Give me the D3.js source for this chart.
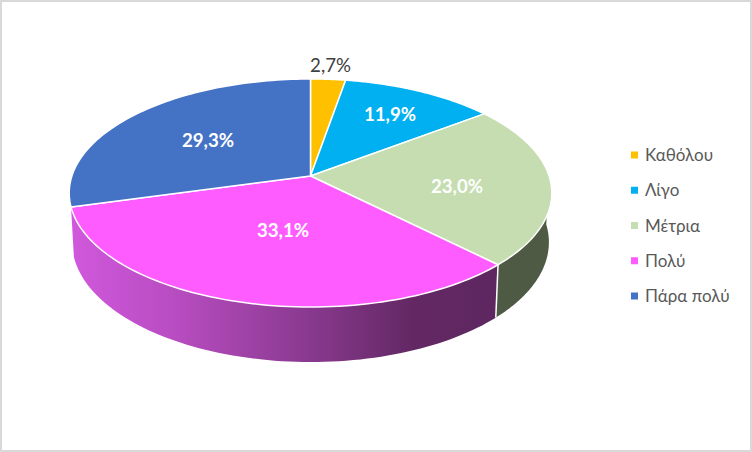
<!DOCTYPE html>
<html><head><meta charset="utf-8">
<script src="https://cdn.jsdelivr.net/npm/d3@7"></script>
<style>html,body{margin:0;padding:0;background:#fff}svg{display:block}text{font-family:Lato,"Open Sans",sans-serif}</style>
</head><body><svg id="c" width="752" height="452"></svg>
<script>
const categories = ["Καθόλου","Λίγο","Μέτρια","Πολύ","Πάρα πολύ"];
const values = [2.7,11.9,23.0,33.1,29.3];
const labels = ["2,7%","11,9%","23,0%","33,1%","29,3%"];
const colors = ["#FFC000","#00B0F0","#C5DDB0","#FF5CFF","#4472C4"];
const labelColors = ["#404040","#fff","#fff","#fff","#fff"];
const labelPos = [[330.5,65],[390,114],[457,186],[283,230],[208,140]];
const W=752,H=452;
const svg=d3.select("#c");
svg.append("rect").attr("x",1).attr("y",1).attr("width",W-2).attr("height",H-2).attr("fill","#fff").attr("stroke","#d9d9d9").attr("stroke-width",2);

// perspective projection of the pie disc
const cx=310.5,cy=176,A=238.6,B=111.5,k=0.149;
const rimTop=t=>{const u=Math.sin(t),v=-Math.cos(t),w=1-k*v;return [cx+A*u/w,cy+B*v/w];};
const rimLow=t=>{const p=rimTop(t);return [cx+0.988*(p[0]-cx),p[1]*1.05+39.65];};
const line=d3.line();
const arcs=d3.pie().sort(null)(values);
const sample=(f,a,b,n=80)=>d3.range(n+1).map(i=>f(a+(b-a)*i/n));

const defs=svg.append("defs");
const grad=defs.append("linearGradient").attr("id","wall").attr("gradientUnits","userSpaceOnUse")
  .attr("x1",72).attr("x2",497).attr("y1",0).attr("y2",0);
[[0,"#D058DC"],[0.25,"#B74CC0"],[0.55,"#8A3A90"],[0.8,"#632864"],[1,"#5E2760"]]
  .forEach(s=>grad.append("stop").attr("offset",s[0]).attr("stop-color",s[1]));

// side walls
const wallGreenFrom=Math.PI/2;
const a2=arcs[2],a3=arcs[3];
svg.append("path").attr("d",line([...sample(rimTop,wallGreenFrom,a2.endAngle),...sample(rimLow,a2.endAngle,wallGreenFrom)])+"Z")
  .attr("fill","#4F5A45");
svg.append("path").attr("d",line([...sample(rimTop,a3.startAngle,a3.endAngle),...sample(rimLow,a3.endAngle,a3.startAngle)])+"Z")
  .attr("fill","url(#wall)");
svg.append("path").attr("d",line([rimTop(a3.startAngle),rimLow(a3.startAngle)])).attr("stroke","#fff").attr("stroke-width",1.5).attr("fill","none");

// top surface
arcs.forEach((d,i)=>{
  svg.append("path").attr("d",line([[cx,cy],...sample(rimTop,d.startAngle,d.endAngle)])+"Z")
    .attr("fill",colors[i]).attr("stroke","#fff").attr("stroke-width",1.5).attr("stroke-linejoin","round");
});

// data labels
labels.forEach((t,i)=>{
  svg.append("text").attr("x",labelPos[i][0]).attr("y",labelPos[i][1]+6.5).attr("text-anchor","middle")
    .attr("font-size",18.7).attr("font-weight",i?700:400).attr("fill",labelColors[i]).text(t);
});

// legend
const ly=d3.scalePoint().domain(categories).range([155,296]);
categories.forEach((c,i)=>{
  svg.append("rect").attr("x",631).attr("y",ly(c)-3.5).attr("width",7).attr("height",7).attr("fill",colors[i]);
  svg.append("text").attr("x",645).attr("y",ly(c)+6).attr("font-size",17).attr("fill","#595959").text(c);
});
</script></body></html>
